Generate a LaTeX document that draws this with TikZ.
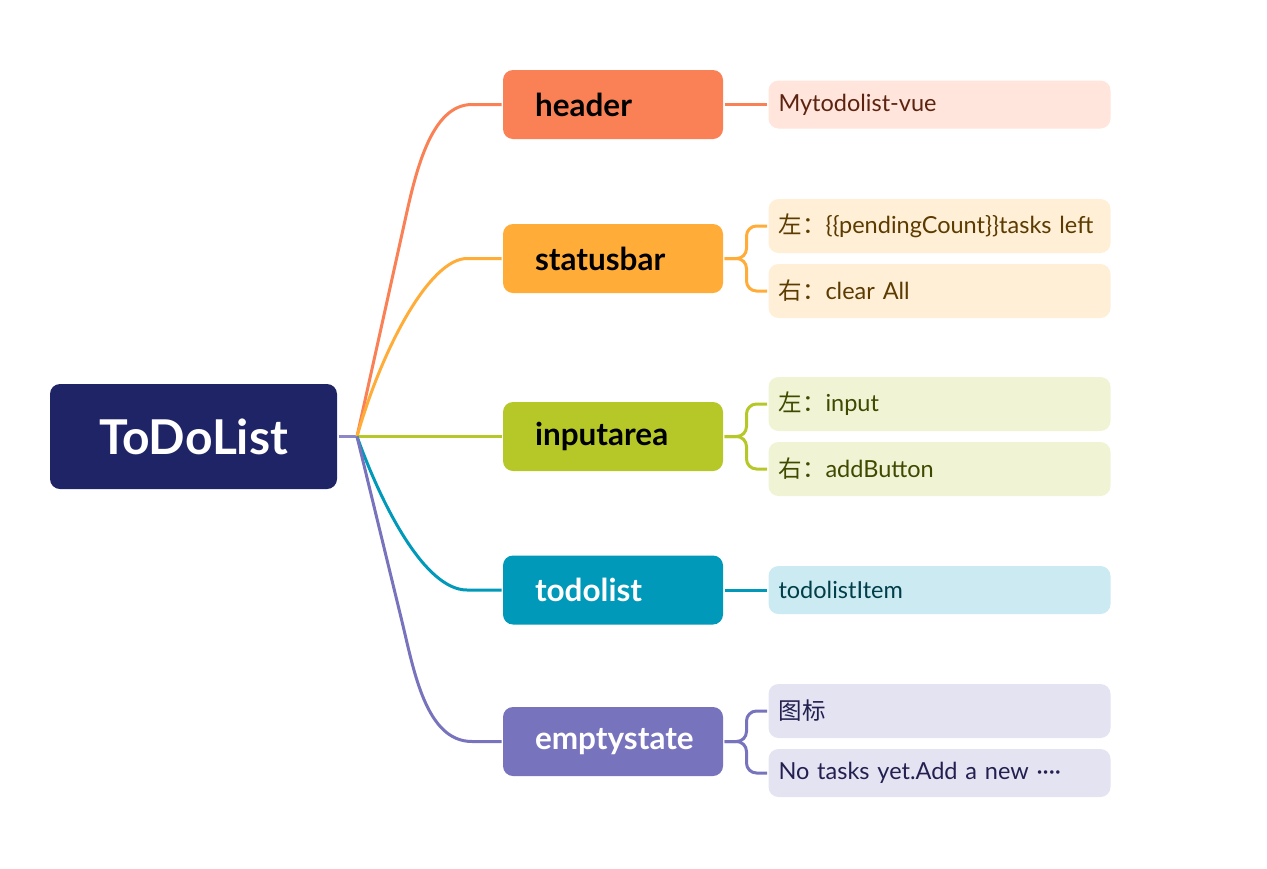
\documentclass[tikz,border=0pt]{standalone}
\usepackage{fontspec}
\setmainfont{Lato}
\newfontfamily\cjk{Noto Sans CJK SC}
\definecolor{rootc}{HTML}{1F2466}
\definecolor{hdr}{HTML}{FA8155}
\definecolor{hdrl}{HTML}{FFE5DB}
\definecolor{hdrt}{HTML}{5C2410}
\definecolor{bar}{HTML}{FFAD38}
\definecolor{barl}{HTML}{FFEFD7}
\definecolor{bart}{HTML}{5C3B00}
\definecolor{inp}{HTML}{B6C728}
\definecolor{inpl}{HTML}{F0F4D4}
\definecolor{inpt}{HTML}{414800}
\definecolor{lst}{HTML}{0099B9}
\definecolor{lstl}{HTML}{CCEAF1}
\definecolor{lstt}{HTML}{003E4A}
\definecolor{emp}{HTML}{7873BD}
\definecolor{empl}{HTML}{E4E3F2}
\definecolor{empt}{HTML}{232050}
\begin{document}
\begin{tikzpicture}[
  x=1pt, y=-1pt,
  line width=3pt,
  root/.style={fill=rootc, text=white, rounded corners=10pt, minimum width=287pt,
    minimum height=105pt, font=\fontsize{48}{56}\selectfont\bfseries},
  topic/.style={rounded corners=10pt, text width=156pt, inner xsep=32pt, inner ysep=0pt,
    minimum height=69pt, align=left, font=\fontsize{31.5}{36}\selectfont\bfseries},
  sub/.style={rounded corners=10pt, text width=322pt, inner xsep=10pt, inner ysep=0pt,
    minimum height=48pt, align=left, anchor=west, font=\fontsize{23.5}{28}\selectfont},
  tall/.style={minimum height=54pt},
  bracket/.style={rounded corners=10pt},
]
\useasboundingbox (0,0) rectangle (1267,868);

\node[root] (todo) at (193.5,436.5) {ToDoList};
\coordinate (hub) at (357,436.5);

\node[topic, fill=hdr, text=black] (header) at (613,104.5) {header};
\node[topic, fill=bar, text=black] (statusbar) at (613,258.5) {statusbar};
\node[topic, fill=inp, text=black] (inputarea) at (613,436.5) {inputarea};
\node[topic, fill=lst, text=white] (todolist) at (613,590) {todolist};
\node[topic, fill=emp, text=white] (emptystate) at (613,741.5) {emptystate};

\node[sub, fill=hdrl, text=hdrt] (title) at (767,104.5) {Mytodolist-vue};
\node[sub, tall, fill=barl, text=bart] (pending) at (767,226)
  {{\cjk 左：}\{\{pendingCount\}\}tasks left};
\node[sub, tall, fill=barl, text=bart] (clear) at (767,291) {{\cjk 右：}clear All};
\node[sub, tall, fill=inpl, text=inpt] (input) at (767,404) {{\cjk 左：}input};
\node[sub, tall, fill=inpl, text=inpt] (addbtn) at (767,469) {{\cjk 右：}addButton};
\node[sub, fill=lstl, text=lstt] (item) at (767,590) {todolistItem};
\node[sub, tall, fill=empl, text=empt] (icon) at (767,711) {{\cjk 图标}};
\node[sub, fill=empl, text=empt] (empty) at (767,773) {No tasks yet.Add a new ····};

\draw[emp!85!white] (todo.east) -- (hub);
\draw[hdr] (hub) -- (404,225) .. controls (415,175) and (430,104.5) .. (472,104.5) -- (header.west);
\draw[bar] (hub) .. controls (382,348) and (430,258.5) .. (467,258.5) -- (statusbar.west);
\draw[inp] (hub) -- (inputarea.west);
\draw[lst] (hub) .. controls (382,506) and (425,590) .. (467,590) -- (todolist.west);
\draw[emp] (hub) -- (402,621.5) .. controls (414,671) and (426,741.5) .. (472,741.5) -- (emptystate.west);

\draw[hdr] (header) -- (title);
\draw[bar, bracket] (statusbar.east) -- ++(22,0) |- (pending.west);
\draw[bar, bracket] (statusbar.east) -- ++(22,0) |- (clear.west);
\draw[inp, bracket] (inputarea.east) -- ++(22,0) |- (input.west);
\draw[inp, bracket] (inputarea.east) -- ++(22,0) |- (addbtn.west);
\draw[lst] (todolist) -- (item);
\draw[emp, bracket] (emptystate.east) -- ++(22,0) |- (icon.west);
\draw[emp, bracket] (emptystate.east) -- ++(22,0) |- (empty.west);
\end{tikzpicture}
\end{document}
